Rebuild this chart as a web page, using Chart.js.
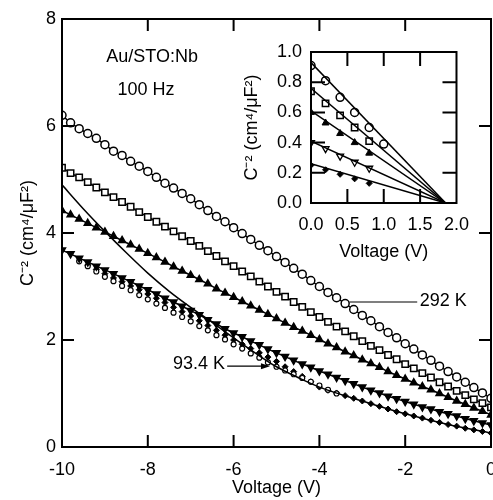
<!DOCTYPE html>
<html>
<head>
<meta charset="utf-8">
<script src="https://cdn.jsdelivr.net/npm/chart.js@4"></script>
<style>
  html, body { margin: 0; padding: 0; background: #fff; overflow: hidden; }
  #wrap { position: relative; width: 493px; height: 500px; overflow: hidden; }
  #mainChart { position: absolute; left: 0; top: 0; }
  #insetChart { position: absolute; left: 232px; top: 30px; }
</style>
</head>
<body>
<div id="wrap">
  <canvas id="mainChart" width="520" height="500"></canvas>
  <canvas id="insetChart" width="248" height="240"></canvas>
</div>
<script>
// main plot: C^-2 vs reverse bias, markers every 0.2 V
const volts = [-10, -9.8, -9.6, -9.4, -9.2, -9, -8.8, -8.6, -8.4, -8.2,
  -8, -7.8, -7.6, -7.4, -7.2, -7, -6.8, -6.6, -6.4, -6.2,
  -6, -5.8, -5.6, -5.4, -5.2, -5, -4.8, -4.6, -4.4, -4.2,
  -4, -3.8, -3.6, -3.4, -3.2, -3, -2.8, -2.6, -2.4, -2.2,
  -2, -1.8, -1.6, -1.4, -1.2, -1, -0.8, -0.6, -0.4, -0.2, 0];

const circles292 = [6.20, 6.06, 5.95, 5.86, 5.77, 5.65, 5.53, 5.45, 5.34, 5.25,
  5.15, 5.04, 4.93, 4.84, 4.74, 4.64, 4.53, 4.42, 4.31, 4.21,
  4.10, 3.99, 3.88, 3.77, 3.67, 3.56, 3.45, 3.34, 3.23, 3.11,
  3.00, 2.89, 2.79, 2.68, 2.57, 2.46, 2.36, 2.25, 2.14, 2.04,
  1.93, 1.83, 1.72, 1.62, 1.51, 1.41, 1.31, 1.21, 1.11, 1.01, 0.91];

const squares = [5.22, 5.12, 5.04, 4.95, 4.85, 4.76, 4.67, 4.58, 4.49, 4.39,
  4.30, 4.21, 4.12, 4.03, 3.94, 3.85, 3.76, 3.66, 3.57, 3.47,
  3.38, 3.28, 3.19, 3.09, 3.00, 2.90, 2.81, 2.71, 2.62, 2.52,
  2.43, 2.34, 2.25, 2.16, 2.07, 1.98, 1.89, 1.81, 1.72, 1.64,
  1.55, 1.47, 1.38, 1.30, 1.21, 1.13, 1.05, 0.97, 0.89, 0.82, 0.74];

const trianglesUp = [4.42, 4.34, 4.26, 4.18, 4.10, 4.02, 3.94, 3.86, 3.78, 3.70,
  3.62, 3.54, 3.46, 3.37, 3.29, 3.21, 3.13, 3.05, 2.96, 2.88,
  2.80, 2.72, 2.64, 2.56, 2.48, 2.40, 2.32, 2.24, 2.17, 2.09,
  2.01, 1.93, 1.86, 1.78, 1.71, 1.63, 1.56, 1.49, 1.41, 1.34,
  1.27, 1.20, 1.13, 1.07, 1.00, 0.93, 0.86, 0.80, 0.73, 0.67, 0.60];

const trianglesDown = [3.68, 3.61, 3.53, 3.46, 3.38, 3.31, 3.24, 3.16, 3.09, 3.01,
  2.94, 2.86, 2.78, 2.71, 2.63, 2.55, 2.47, 2.38, 2.30, 2.21,
  2.13, 2.06, 1.98, 1.91, 1.83, 1.76, 1.69, 1.62, 1.55, 1.49,
  1.42, 1.36, 1.30, 1.24, 1.18, 1.12, 1.06, 1.01, 0.95, 0.90,
  0.85, 0.80, 0.75, 0.71, 0.66, 0.62, 0.58, 0.53, 0.49, 0.45, 0.41];

// 93.4 K small open circles (only where visible)
const circles93 = [null, null, 3.47, 3.38, 3.28, 3.18, 3.10, 3.01, 2.93, 2.84,
  2.76, 2.68, 2.60, 2.51, 2.43, 2.35, 2.26, 2.18, 2.09, 2.01,
  1.92, 1.84, 1.75, 1.67, 1.58, 1.50, 1.43, 1.36, 1.29, 1.22,
  1.15, 1.07, 1.00, null, null, null, null, null, null, null,
  null, null, null, null, null, null, null, null, null, null, null];

const diamonds = [null, null, null, 3.40, 3.32, 3.24, 3.16, 3.09, 3.01, 2.94,
  2.86, 2.78, 2.70, 2.61, 2.53, 2.45, 2.36, 2.27, 2.18, 2.09,
  2.00, 1.92, 1.84, 1.76, 1.68, 1.60, 1.50, 1.41, 1.32, 1.22,
  1.12, 1.06, 1.01, 0.96, 0.91, 0.86, 0.81, 0.76, 0.71, 0.66,
  0.62, 0.58, 0.54, 0.50, 0.46, 0.42, 0.39, 0.35, 0.32, 0.29, 0.26];

// the plain solid curve
const curveVolts = [-10, -9.5, -9, -8.5, -8, -7.5, -7, -6.5, -6, -5.5, -5, -4.5, -4, -3, -2, -1, 0];
const curveVals = [4.90, 4.45, 4.03, 3.63, 3.25, 2.91, 2.61, 2.33, 2.04, 1.76, 1.50, 1.30, 1.12, 0.86, 0.62, 0.42, 0.26];

const mainXTicks = [-8, -6, -4, -2];
const mainYTicks = [2, 4, 6];

// inset: forward bias
const insetVolts = [0, 0.2, 0.4, 0.6, 0.8, 1.0];
const insetCircles = [0.91, 0.81, 0.70, 0.60, 0.50, 0.39];
const insetSquares = [0.74, 0.66, 0.58, 0.50, 0.41];
const insetTriUp = [0.60, 0.53, 0.46, 0.40, 0.33];
const insetTriDown = [0.40, 0.36, 0.31, 0.27, 0.23];
const insetDiamonds = [0.25, 0.22, 0.19, 0.16, 0.13];
const fitIntercepts = [0.93, 0.76, 0.61, 0.41, 0.26];
const fitBuiltIn = 1.85;

const insetXTicks = [0.5, 1.0, 1.5];
const insetYTicks = [0.2, 0.4, 0.6, 0.8];

const FONT = "'Liberation Sans', Arial, sans-serif";
Chart.defaults.font.family = FONT;
Chart.defaults.color = '#000';

const pts = (xs, ys) => xs.map((v, i) => ({ x: v, y: ys[i] === undefined ? null : ys[i] }));

const frameTicks = {
  id: 'frameTicks',
  afterDatasetsDraw(chart, args, opts) {
    const { ctx, chartArea: a, scales: { x, y } } = chart;
    ctx.save();
    ctx.strokeStyle = '#000';
    ctx.lineWidth = opts.width;
    ctx.strokeRect(a.left, a.top, a.right - a.left, a.bottom - a.top);
    ctx.beginPath();
    opts.xTicks.forEach(v => {
      const px = x.getPixelForValue(v);
      ctx.moveTo(px, a.bottom); ctx.lineTo(px, a.bottom - opts.len);
      ctx.moveTo(px, a.top); ctx.lineTo(px, a.top + opts.len);
    });
    opts.yTicks.forEach(v => {
      const py = y.getPixelForValue(v);
      ctx.moveTo(a.left, py); ctx.lineTo(a.left + opts.len, py);
      ctx.moveTo(a.right, py); ctx.lineTo(a.right - opts.len, py);
    });
    ctx.stroke();
    ctx.restore();
  }
};

const labels = {
  id: 'labels',
  afterDraw(chart) {
    const { ctx, scales: { x, y } } = chart;
    ctx.save();
    ctx.fillStyle = '#000';
    ctx.strokeStyle = '#000';
    ctx.font = '18px ' + FONT;
    ctx.textBaseline = 'middle';
    ctx.textAlign = 'center';
    ctx.fillText('Au/STO:Nb', x.getPixelForValue(-7.9), y.getPixelForValue(7.29));
    ctx.fillText('100 Hz', x.getPixelForValue(-8.04), y.getPixelForValue(6.67));
    ctx.textAlign = 'left';
    ctx.fillText('292 K', x.getPixelForValue(-1.66), y.getPixelForValue(2.73));
    ctx.textAlign = 'right';
    ctx.fillText('93.4 K', x.getPixelForValue(-6.2), y.getPixelForValue(1.55));
    ctx.lineWidth = 1.2;
    ctx.beginPath();
    let yy = y.getPixelForValue(2.71);
    ctx.moveTo(x.getPixelForValue(-3.3), yy); ctx.lineTo(x.getPixelForValue(-1.72), yy);
    yy = y.getPixelForValue(1.51);
    const x0 = x.getPixelForValue(-6.15), x1 = x.getPixelForValue(-5.2);
    ctx.moveTo(x0, yy); ctx.lineTo(x1, yy);
    ctx.stroke();
    ctx.beginPath();
    ctx.moveTo(x1 + 2, yy); ctx.lineTo(x1 - 7, yy - 3); ctx.lineTo(x1 - 7, yy + 3); ctx.closePath();
    ctx.fill();
    ctx.restore();
  }
};

const tickFont = { size: 18 };
const titleFont = { size: 18 };

new Chart(document.getElementById('mainChart'), {
  type: 'scatter',
  data: {
    datasets: [
      { data: pts(curveVolts, curveVals), showLine: true, pointRadius: 0, borderColor: '#000', borderWidth: 1.5,
        cubicInterpolationMode: 'monotone' },
      { data: pts(volts, trianglesDown), showLine: true, borderColor: '#000', borderWidth: 1.5,
        pointStyle: 'triangle', rotation: 180, pointRadius: 4, backgroundColor: '#000' },
      { data: pts(volts, circles93), pointStyle: 'circle', pointRadius: 2.5, borderWidth: 1.2,
        borderColor: '#000', backgroundColor: '#fff' },
      { data: pts(volts, diamonds), pointStyle: 'rectRot', pointRadius: 3, borderWidth: 1,
        borderColor: '#000', backgroundColor: '#000' },
      { data: pts(volts, trianglesUp), showLine: true, borderColor: '#000', borderWidth: 1.5,
        pointStyle: 'triangle', pointRadius: 4, backgroundColor: '#000' },
      { data: pts(volts, squares), showLine: true, borderColor: '#000', borderWidth: 1.5,
        pointStyle: 'rect', pointRadius: 4.5, pointBorderWidth: 1.5, backgroundColor: '#fff' },
      { data: pts(volts, circles292), showLine: true, borderColor: '#000', borderWidth: 1.5,
        pointStyle: 'circle', pointRadius: 4, pointBorderWidth: 1.5, backgroundColor: '#fff' }
    ]
  },
  options: {
    responsive: false,
    animation: false,
    layout: { padding: { left: 0, right: 29, top: 19, bottom: 0 } },
    plugins: {
      legend: { display: false },
      tooltip: { enabled: false },
      frameTicks: { width: 2, len: 12, xTicks: mainXTicks, yTicks: mainYTicks }
    },
    scales: {
      x: {
        min: -10, max: 0,
        grid: { display: false, drawTicks: false },
        border: { display: false },
        ticks: { stepSize: 2, font: tickFont, padding: 12, maxRotation: 0 },
        title: { display: true, text: 'Voltage (V)', font: titleFont, padding: { top: 0, bottom: 1 } },
        afterFit: s => { s.height = 53; }
      },
      y: {
        min: 0, max: 8,
        grid: { display: false, drawTicks: false },
        border: { display: false },
        ticks: { stepSize: 2, font: tickFont, padding: 6 },
        title: { display: true, text: 'C⁻² (cm⁴/μF²)', font: titleFont, padding: { top: 17, bottom: 0 } },
        afterFit: s => { s.width = 62; }
      }
    }
  },
  plugins: [frameTicks, labels]
});

const fitLines = fitIntercepts.map(v => ({
  data: pts([0, fitBuiltIn], [v, 0]), showLine: true, pointRadius: 0, borderColor: '#000', borderWidth: 1.5
}));

new Chart(document.getElementById('insetChart'), {
  type: 'scatter',
  data: {
    datasets: [
      ...fitLines,
      { data: pts(insetVolts, insetCircles), pointStyle: 'circle', pointRadius: 4, borderWidth: 1.5,
        borderColor: '#000', backgroundColor: '#fff' },
      { data: pts(insetVolts.slice(0, 5), insetSquares), pointStyle: 'rect', pointRadius: 4.5, borderWidth: 1.5,
        borderColor: '#000', backgroundColor: '#fff' },
      { data: pts(insetVolts.slice(0, 5), insetTriUp), pointStyle: 'triangle', pointRadius: 4,
        borderColor: '#000', backgroundColor: '#000' },
      { data: pts(insetVolts.slice(0, 5), insetTriDown), pointStyle: 'triangle', rotation: 180, pointRadius: 4,
        borderWidth: 1.3, borderColor: '#000', backgroundColor: '#fff' },
      { data: pts(insetVolts.slice(0, 5), insetDiamonds), pointStyle: 'rectRot', pointRadius: 3,
        borderColor: '#000', backgroundColor: '#000' }
    ]
  },
  options: {
    responsive: false,
    animation: false,
    layout: { padding: { left: 0, right: 17, top: 22, bottom: 0 } },
    plugins: {
      legend: { display: false },
      tooltip: { enabled: false },
      frameTicks: { width: 2, len: 14, xTicks: insetXTicks, yTicks: insetYTicks }
    },
    scales: {
      x: {
        min: 0, max: 2,
        grid: { display: false, drawTicks: false },
        border: { display: false },
        ticks: { stepSize: 0.5, font: tickFont, padding: 11, maxRotation: 0, callback: v => v.toFixed(1) },
        title: { display: true, text: 'Voltage (V)', font: titleFont, padding: { top: 0, bottom: 7 } },
        afterFit: s => { s.height = 67; }
      },
      y: {
        min: 0, max: 1,
        grid: { display: false, drawTicks: false },
        border: { display: false },
        ticks: { stepSize: 0.2, font: tickFont, padding: 9, callback: v => v.toFixed(1) },
        title: { display: true, text: 'C⁻² (cm⁴/μF²)', font: titleFont, padding: { top: 9, bottom: 0 } },
        afterFit: s => { s.width = 79; }
      }
    }
  },
  plugins: [frameTicks]
});
</script>
</body>
</html>
